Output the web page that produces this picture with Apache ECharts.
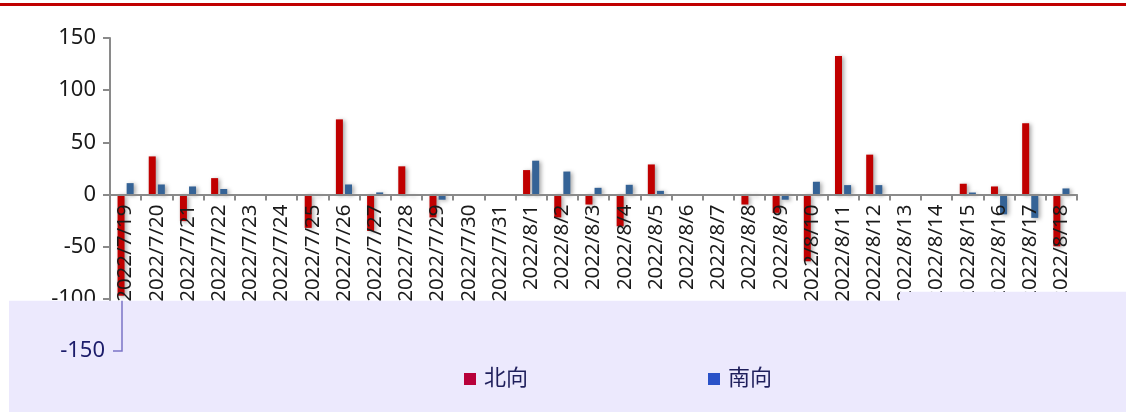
<!DOCTYPE html>
<html>
<head>
<meta charset="utf-8">
<script src="https://cdn.jsdelivr.net/npm/echarts@6/dist/echarts.min.js"></script>
<style>html,body{margin:0;padding:0;background:#fff;}#c{width:1126px;height:412px;}</style>
</head>
<body>
<div id="c"></div>
<script>
var categories = ['2022/7/19','2022/7/20','2022/7/21','2022/7/22','2022/7/23','2022/7/24','2022/7/25','2022/7/26','2022/7/27','2022/7/28','2022/7/29','2022/7/30','2022/7/31','2022/8/1','2022/8/2','2022/8/3','2022/8/4','2022/8/5','2022/8/6','2022/8/7','2022/8/8','2022/8/9','2022/8/10','2022/8/11','2022/8/12','2022/8/13','2022/8/14','2022/8/15','2022/8/16','2022/8/17','2022/8/18'];
var northValues = [-97, 36.5, -25.5, 15.7, 0, 0, -32, 72, -35, 27, -22, 0, 0, 23.4, -22, -9.6, -30.5, 28.8, 0, 0, -9.6, -17.6, -64, 132.7, 38.2, 0, 0, 10.3, 7.7, 68.3, -49.7];
var southValues = [10.9, 9.6, 7.7, 5.3, 0, 0, -1, 9.6, 2, -1, -5, 0, 0, 32.4, 22, 6.4, 9.3, 3.5, 0, 0, -1, -5, 12.2, 9, 9, 0, 0, 1.9, -19, -22.4, 5.8];
var seriesNames = ['北向', '南向'];
var yMin = -150, yMax = 150, yStep = 50;

var FONT = '"Noto Sans", "Noto Sans CJK SC", sans-serif';
var chart = echarts.init(document.getElementById('c'), null, {renderer: 'canvas'});
var shadow = {shadowColor: 'rgba(0,0,0,0.35)', shadowBlur: 4, shadowOffsetX: 2, shadowOffsetY: 1};

chart.setOption({
  animation: false,
  backgroundColor: '#ffffff',
  grid: {left: 110, right: 49, top: 38, bottom: 61, containLabel: false, outerBoundsMode: 'none'},
  legend: {
    z: 6,
    left: 459, top: 363,
    itemWidth: 12, itemHeight: 12, itemGap: 180,
    icon: 'rect',
    textStyle: {fontFamily: FONT, fontSize: 22, color: '#1f1f5c', padding: [0, 0, 0, 3]},
    data: [
      {name: seriesNames[0], itemStyle: {color: '#b8003a', shadowBlur: 0, shadowOffsetX: 0, shadowOffsetY: 0}},
      {name: seriesNames[1], itemStyle: {color: '#2a52c8', shadowBlur: 0, shadowOffsetX: 0, shadowOffsetY: 0}}
    ]
  },
  xAxis: {
    type: 'category',
    data: categories,
    z: 2.5,
    position: 'bottom',
    offset: 0,
    axisLine: {onZero: false, lineStyle: {color: '#8a8a8a', width: 2}},
    axisTick: {show: true, length: 6, alignWithLabel: false, lineStyle: {color: '#8a8a8a', width: 2}},
    axisLabel: {show: true, interval: 0, rotate: 90, margin: 10, fontFamily: FONT, fontSize: 20.5, color: '#1a1a1a'},
    splitLine: {show: false}
  },
  yAxis: [{
    type: 'value', min: yMin, max: yMax, interval: yStep, z: 0,
    axisLine: {show: true, lineStyle: {color: '#8a8a8a', width: 2}},
    axisTick: {show: true, length: 7, lineStyle: {color: '#8a8a8a', width: 2}},
    axisLabel: {margin: 14, fontFamily: FONT, fontSize: 22, color: '#1a1a1a'},
    splitLine: {show: false}
  }, {
    type: 'value', min: yMin, max: yMax, interval: yStep, position: 'left', offset: -12, z: 5,
    axisLine: {show: false}, axisTick: {show: false}, splitLine: {show: false},
    axisLabel: {margin: 17, fontFamily: FONT, fontSize: 22, color: '#1c1c6a',
      formatter: function (v) { return v === yMin ? String(v) : ''; }}
  }],
  series: [{
    name: seriesNames[0], type: 'bar', data: northValues,
    barWidth: 7, barGap: '30%',
    itemStyle: Object.assign({color: '#c00000'}, shadow)
  }, {
    name: seriesNames[1], type: 'bar', data: southValues,
    barWidth: 7, barGap: '30%',
    itemStyle: Object.assign({color: '#356396'}, shadow)
  }]
});

var yLow = chart.convertToPixel({yAxisIndex: 0}, yMin);
var yMid = chart.convertToPixel({yAxisIndex: 0}, yMin + yStep);
var yZero = chart.convertToPixel({yAxisIndex: 0}, 0);
chart.setOption({
  xAxis: {offset: -(yLow - yZero)},
  graphic: [
    {type: 'line', z: 10, shape: {x1: 0, y1: 4.5, x2: 1126, y2: 4.5}, style: {stroke: '#c00000', lineWidth: 3}},
    {type: 'polygon', z: 3, shape: {points: [[9, yMid + 2], [900, yMid + 2], [900, yMid - 7], [1126, yMid - 7], [1126, 412], [9, 412]]}, style: {fill: '#ece9fd'}},
    {type: 'polyline', z: 5, shape: {points: [[122, yMid + 2], [122, yLow], [113, yLow]]}, style: {stroke: '#7b74c6', lineWidth: 1.5, fill: null}}
  ]
});
</script>
</body>
</html>
